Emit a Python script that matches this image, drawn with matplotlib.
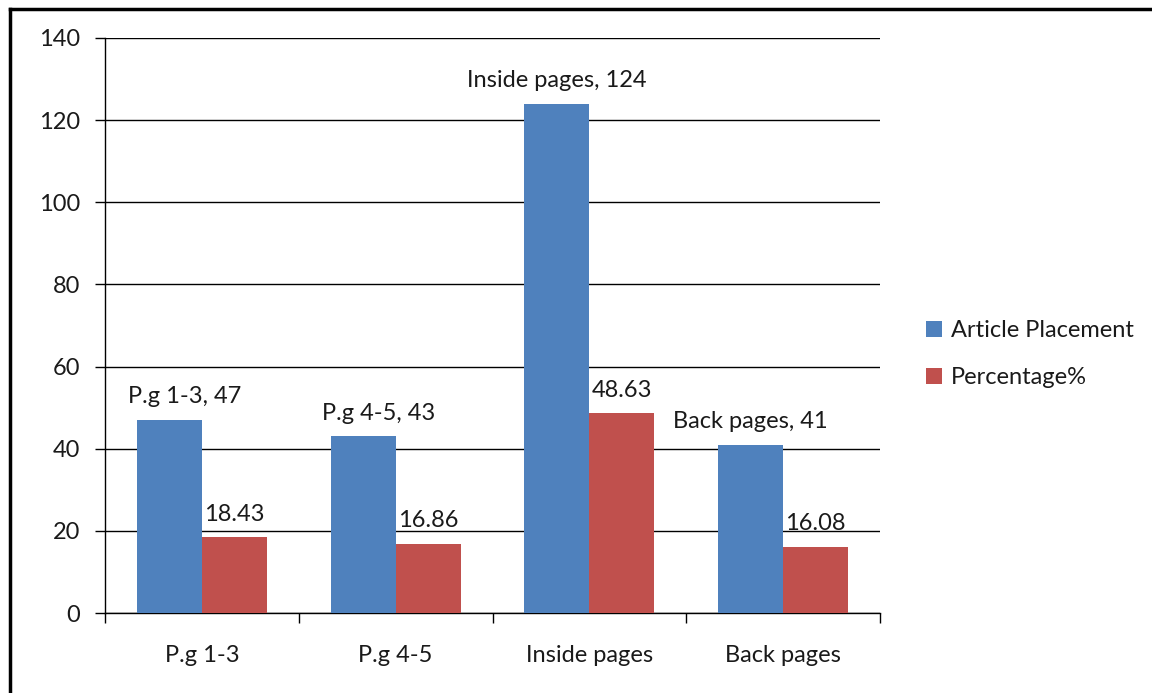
import matplotlib
matplotlib.use("Agg")
import matplotlib.pyplot as plt
import numpy as np
from matplotlib.lines import Line2D

plt.rcParams['font.family'] = ['Lato', 'DejaVu Sans']

categories = ["P.g 1-3", "P.g 4-5", "Inside pages", "Back pages"]
article_placement = [47, 43, 124, 41]
percentage = [18.43, 16.86, 48.63, 16.08]
series_names = ["Article Placement", "Percentage%"]
y_ticks = [0, 20, 40, 60, 80, 100, 120, 140]

blue = "#4F81BD"
red = "#C0504D"
text_color = "#1a1a1a"
fs = 17

fig = plt.figure(figsize=(11.52, 6.93), dpi=100)
ax = fig.add_axes([105 / 1152, 1 - 613 / 693, 775 / 1152, 575 / 693])

x = np.arange(len(categories))
w = 0.335
b1 = ax.bar(x - w / 2, article_placement, width=w, color=blue, label=series_names[0], zorder=3)
b2 = ax.bar(x + w / 2, percentage, width=w, color=red, label=series_names[1], zorder=3)

ax.set_xlim(-0.5, len(categories) - 0.5)
ax.set_ylim(0, 140)
ax.set_yticks(y_ticks)
ax.yaxis.grid(True, color="black", linewidth=1.0, zorder=0)
ax.set_axisbelow(True)

# category ticks sit between groups, labels centred under each group
ax.set_xticks(np.arange(len(categories) + 1) - 0.5)
ax.set_xticklabels([])
ax.set_xticks(x, minor=True)
ax.set_xticklabels(categories, minor=True)
ax.tick_params(axis="x", which="minor", length=0, pad=23, labelsize=fs, labelcolor=text_color)
ax.tick_params(axis="x", which="major", length=7, direction="out", width=1)
ax.tick_params(axis="y", length=7, direction="out", width=1, pad=11, labelsize=fs, labelcolor=text_color)

for s in ["top", "right"]:
    ax.spines[s].set_visible(False)
for s in ["left", "bottom"]:
    ax.spines[s].set_linewidth(1.0)

# value labels
label_shift = [11, 11, 0, 0]
for i, (c, v) in enumerate(zip(categories, article_placement)):
    ax.annotate(f"{c}, {v}", (x[i] - w / 2, v), xytext=(label_shift[i], 9),
                textcoords="offset points", ha="center", va="bottom",
                fontsize=fs, color=text_color)
for i, v in enumerate(percentage):
    ax.annotate(f"{v:.2f}", (x[i] + w / 2, v), xytext=(0, 9),
                textcoords="offset points", ha="center", va="bottom",
                fontsize=fs, color=text_color)

leg = fig.legend(handles=[b1, b2], labels=series_names, loc="center left",
                 bbox_to_anchor=(905 / 1152, 1 - 354 / 693), frameon=False,
                 fontsize=fs, handlelength=0.65, handleheight=0.65,
                 handletextpad=0.4, labelspacing=1.1)
for t in leg.get_texts():
    t.set_color(text_color)

# outer frame (top and left edges)
fig.add_artist(Line2D([10 / 1152, 10 / 1152], [0, 1 - 9 / 693], transform=fig.transFigure,
                      color="black", linewidth=2.5))
fig.add_artist(Line2D([10 / 1152, 1], [1 - 9 / 693, 1 - 9 / 693], transform=fig.transFigure,
                      color="black", linewidth=2.5))

fig.savefig("out.png", dpi=100)
